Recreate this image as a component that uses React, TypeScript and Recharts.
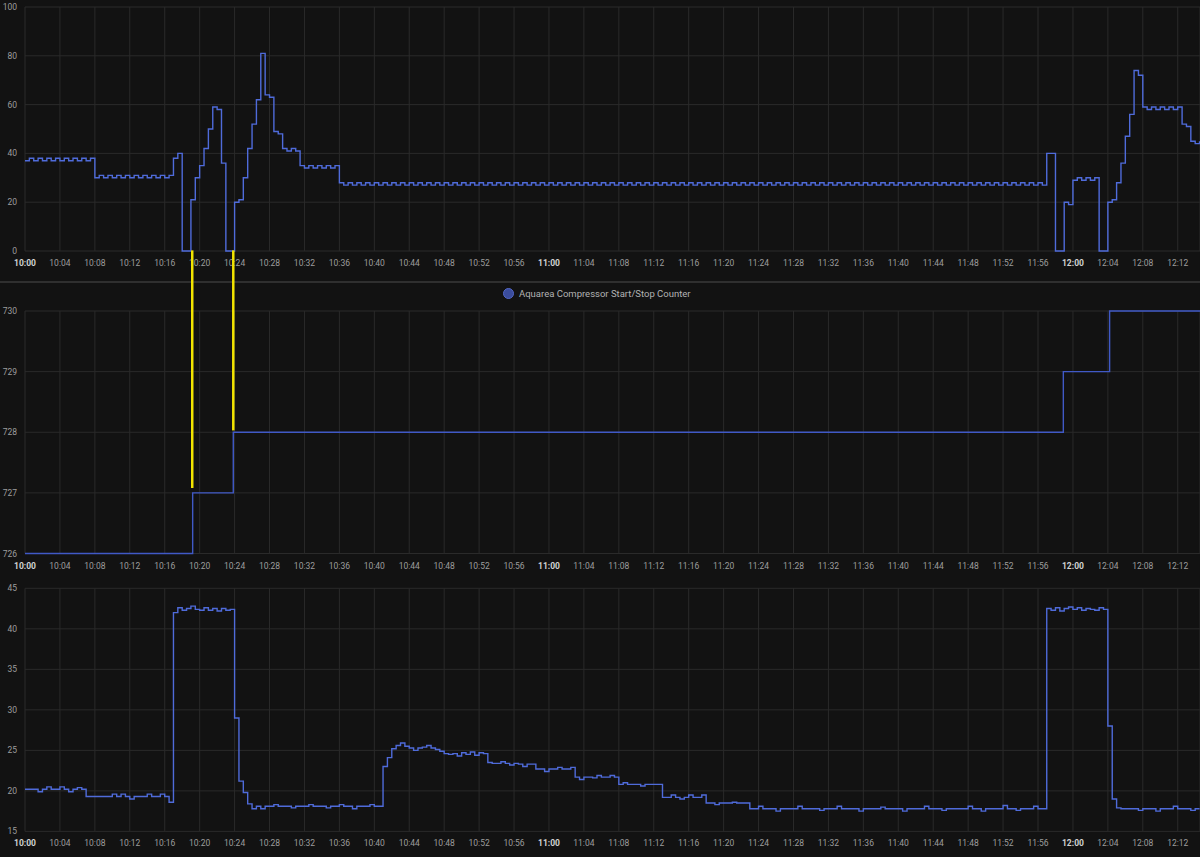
import React from 'react';
import { LineChart, Line, XAxis, YAxis, CartesianGrid, ReferenceLine } from 'recharts';

// sampling: one value every 30 s, starting 10:00
const SAMPLE_MIN = 0.5;
const START_HOUR = 10;
const END_MIN = 134.55;

const timeTicks = [0, 4, 8, 12, 16, 20, 24, 28, 32, 36, 40, 44, 48, 52, 56, 60, 64, 68, 72, 76, 80, 84, 88, 92, 96, 100, 104, 108, 112, 116, 120, 124, 128, 132];
const freqTicks = [0, 20, 40, 60, 80, 100];
const counterTicks = [726, 727, 728, 729, 730];
const tempTicks = [15, 20, 25, 30, 35, 40, 45];

// top panel, compressor frequency
const compressorFreq = [
  37, 38, 37, 38, 37, 38, 37, 38, 37, 38, 37, 38, 37, 38, 37, 38,
  30, 31, 30, 31, 30, 31, 30, 31, 30, 31, 30, 31, 30, 31, 30, 31, 30, 31,
  38, 40, 0, 0,
  21, 30, 35, 42, 50, 59, 58, 36,
  0, 0,
  20, 21, 30, 42, 52, 62, 81, 64, 63, 49, 48,
  42, 41, 42, 41,
  35, 34, 35, 34, 35, 34, 35, 34, 35,
  28,
  27, 28, 27, 28, 27, 28, 27, 28, 27, 28, 27, 28, 27, 28, 27, 28, 27, 28, 27, 28,
  27, 28, 27, 28, 27, 28, 27, 28, 27, 28, 27, 28, 27, 28, 27, 28, 27, 28, 27, 28,
  27, 28, 27, 28, 27, 28, 27, 28, 27, 28, 27, 28, 27, 28, 27, 28, 27, 28, 27, 28,
  27, 28, 27, 28, 27, 28, 27, 28, 27, 28, 27, 28, 27, 28, 27, 28, 27, 28, 27, 28,
  27, 28, 27, 28, 27, 28, 27, 28, 27, 28, 27, 28, 27, 28, 27, 28, 27, 28, 27, 28,
  27, 28, 27, 28, 27, 28, 27, 28, 27, 28, 27, 28, 27, 28, 27, 28, 27, 28, 27, 28,
  27, 28, 27, 28, 27, 28, 27, 28, 27, 28, 27, 28, 27, 28, 27, 28, 27, 28, 27, 28,
  27, 28, 27, 28, 27, 28, 27, 28, 27, 28, 27, 28, 27, 28, 27, 28, 27, 28, 27, 28,
  27,
  40, 40, 0, 0,
  20, 19,
  29, 30, 29, 30, 29, 30,
  0, 0,
  20, 21, 28, 36, 47, 56, 74, 72,
  59, 58, 59, 58, 59, 58, 59, 58, 59,
  52, 51, 45, 44, 45,
];

// middle panel, start/stop counter (change points)
const counterTimes = [0, 19.2, 23.85, 118.9, 124.2, END_MIN];
const counterValues = [726, 727, 728, 729, 730, 730];

// yellow marks: compressor restart -> counter step
const markerTimes = [19.15, 23.85];
const markerFrom = [727.08, 728.03];
const MARKER_TOP = 731;

// bottom panel, temperature
const outletTemp = [
  20.2, 20.2, 20.2, 19.9, 20.2, 20.5, 20.2, 20.2, 20.5, 20.2, 19.9, 20.2, 20.4, 20.2,
  19.3, 19.3, 19.3, 19.3, 19.3, 19.3, 19.6, 19.3, 19.6, 19.3, 19.0, 19.3, 19.3, 19.3, 19.6, 19.3, 19.3, 19.6, 19.3,
  18.6,
  42.0,
  42.6, 42.3, 42.5, 42.8, 42.4, 42.3, 42.6, 42.3, 42.5, 42.2, 42.5, 42.3, 42.4,
  29, 21.2, 19.8, 18.4, 17.8,
  18.1, 17.8, 18.1, 18.1, 18.3, 18.1, 18.1, 18.1, 17.9, 18.1, 18.1, 18.1, 18.3, 18.1, 18.1,
  18.1, 17.9, 18.1, 18.1, 18.3, 18.1, 18.1, 17.8, 18.1, 18.1, 18.1, 18.3, 18.1, 18.1,
  23.0, 24.1, 25.2, 25.6, 25.9, 25.5,
  25.3, 25.0, 25.3, 25.4, 25.6, 25.3, 25.1,
  24.9, 24.6, 24.5, 24.6, 24.3, 24.7, 24.5, 24.8, 24.4, 24.7, 24.6,
  23.5, 23.4, 23.4, 23.6, 23.4, 23.2, 23.4,
  23.3, 23.0, 23.3, 23.3,
  22.7, 22.7, 22.4, 22.7, 22.7, 22.9, 22.7, 22.7, 22.9,
  21.7, 21.4, 21.7, 21.7, 21.6, 21.9, 21.7, 21.7, 21.9, 21.7,
  20.8, 21.0, 20.8, 20.8, 20.8, 20.6, 20.8, 20.8, 20.8, 20.8,
  19.2, 19.2, 19.5, 19.2, 19.0, 19.2, 19.5, 19.2, 19.2, 19.5,
  18.5, 18.5, 18.3, 18.5, 18.5, 18.5, 18.6, 18.5, 18.5, 18.5,
  17.8, 17.8, 18.1, 17.8, 17.8, 17.8, 17.5, 17.8, 17.8, 17.8, 17.8, 18.1, 17.8, 17.8, 17.8, 17.8, 17.6,
  17.8, 17.8, 17.8, 18.1, 17.8, 17.8, 17.8, 17.8, 17.5, 17.8, 17.8, 17.8, 17.8, 18.0, 17.8, 17.8, 17.8,
  17.8, 17.5, 17.8, 17.8, 17.8, 17.8, 18.1, 17.8, 17.8, 17.8, 17.6, 17.8, 17.8, 17.8, 17.8, 17.8, 18.1,
  17.8, 17.8, 17.5, 17.8, 17.8, 17.8, 17.8, 18.2, 17.8, 17.8, 17.6, 17.8, 17.8, 17.8, 18.1, 17.8, 17.8,
  42.5,
  42.3, 42.6, 42.2, 42.5, 42.7, 42.4, 42.6, 42.3, 42.5, 42.4, 42.3, 42.6, 42.4,
  28, 19, 17.9,
  17.8, 17.8, 17.8, 17.8, 17.6, 17.8, 17.8, 17.8, 17.5, 17.8, 17.8, 17.8, 18.1, 17.8, 17.8, 17.8, 17.6, 17.8, 17.8,
];

const BG = '#121212';
const GRID = '#2a2a2a';
const LINE = '#4f6bda';
const FONT = 'Roboto, "Noto Sans", sans-serif';

const freqRows = compressorFreq.map((v, i) => ({ t: i * SAMPLE_MIN, v }));
const tempRows = outletTemp.map((v, i) => ({ t: i * SAMPLE_MIN, v }));
const counterRows = counterTimes.map((t, i) => ({ t, v: counterValues[i] }));

function TimeTick({ x, y, payload }: any) {
  const m = payload.value;
  const mm = m % 60;
  const label = `${START_HOUR + Math.floor(m / 60)}:${String(mm).padStart(2, '0')}`;
  const hour = mm === 0;
  return (
    <text
      x={x}
      y={y + 15}
      textAnchor="middle"
      fontSize={8.5}
      fontFamily={FONT}
      fontWeight={hour ? 700 : 400}
      fill={hour ? '#d2d2d2' : '#9d9d9d'}
    >
      {label}
    </text>
  );
}

function ValueTick({ x, y, payload }: any) {
  return (
    <text x={x - 8} y={y + 3} textAnchor="end" fontSize={8.5} fontFamily={FONT} fill="#9d9d9d">
      {payload.value}
    </text>
  );
}

function axes(yTicks: number[], xHeight: number) {
  return [
    <CartesianGrid key="g" stroke={GRID} strokeWidth={1} />,
    <XAxis
      key="x"
      dataKey="t"
      type="number"
      domain={[0, END_MIN]}
      ticks={timeTicks}
      allowDataOverflow
      height={xHeight}
      tickLine={false}
      axisLine={false}
      tickSize={0}
      tickMargin={0}
      tick={<TimeTick />}
      interval={0}
    />,
    <YAxis
      key="y"
      type="number"
      domain={[yTicks[0], yTicks[yTicks.length - 1]]}
      ticks={yTicks}
      width={25}
      tickLine={false}
      axisLine={false}
      tickSize={0}
      tickMargin={0}
      tick={<ValueTick />}
      interval={0}
    />,
  ];
}

export default function App() {
  return (
    <div
      style={{
        position: 'fixed',
        left: 0,
        top: 0,
        width: 1200,
        height: 857,
        background: BG,
        overflow: 'hidden',
      }}
    >
      <div style={{ position: 'absolute', left: 0, top: 0 }}>
        <LineChart width={1200} height={282} data={freqRows} margin={{ top: 7, right: 0, bottom: 0, left: 0 }}>
          {axes(freqTicks, 31)}
          <Line type="stepAfter" dataKey="v" stroke={LINE} strokeWidth={1.4} dot={false} isAnimationActive={false} />
        </LineChart>
      </div>

      <div style={{ position: 'absolute', left: 0, top: 281, width: 1200, height: 2, background: '#2f2f2f' }} />

      <div
        style={{
          position: 'absolute',
          left: 503,
          top: 288,
          display: 'flex',
          alignItems: 'center',
          fontFamily: FONT,
          fontSize: 9.5,
          color: '#b3b3b3',
        }}
      >
        <span
          style={{
            width: 9,
            height: 9,
            borderRadius: '50%',
            background: '#3a4c9c',
            border: '1px solid #5368c8',
            marginRight: 5,
          }}
        />
        Aquarea Compressor Start/Stop Counter
      </div>

      <div style={{ position: 'absolute', left: 0, top: 245 }}>
        <LineChart width={1200} height={330} data={counterRows} margin={{ top: 66, right: 0, bottom: 0, left: 0 }}>
          {axes(counterTicks, 21.5)}
          <Line type="stepAfter" dataKey="v" stroke="#4059c6" strokeWidth={1.4} dot={false} isAnimationActive={false} />
          {markerTimes.map((t, i) => (
            <ReferenceLine
              key={i}
              segment={[
                { x: t, y: markerFrom[i] },
                { x: t, y: MARKER_TOP },
              ]}
              stroke="#f2e400"
              strokeWidth={2.5}
              ifOverflow="visible"
            />
          ))}
        </LineChart>
      </div>

      <div style={{ position: 'absolute', left: 0, top: 575 }}>
        <LineChart width={1200} height={282} data={tempRows} margin={{ top: 13.3, right: 0, bottom: 0, left: 0 }}>
          {axes(tempTicks, 25.6)}
          <Line type="stepAfter" dataKey="v" stroke={LINE} strokeWidth={1.4} dot={false} isAnimationActive={false} />
        </LineChart>
      </div>
    </div>
  );
}
